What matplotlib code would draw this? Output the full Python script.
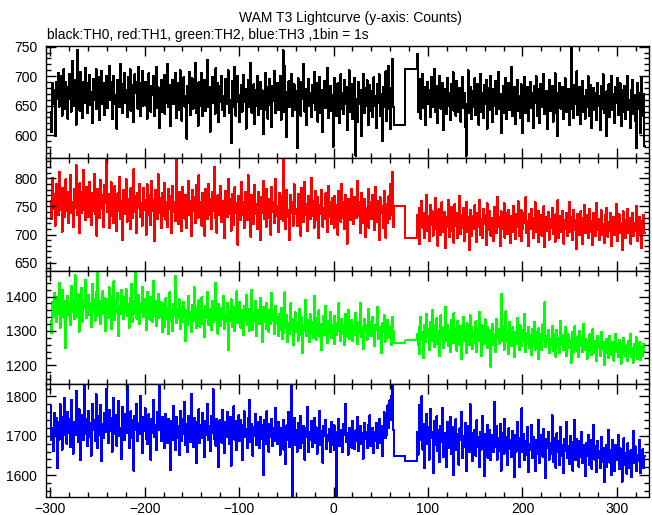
import numpy as np
import matplotlib
matplotlib.use("Agg")
import matplotlib.pyplot as plt
from matplotlib.ticker import MultipleLocator

plt.rcParams['font.family'] = ['Liberation Sans', 'DejaVu Sans']

# ---------------- data (1 s bins) ----------------
t_pre_start, t_pre_end = -300, 64      # regular bins before gap
gap_edges = [64, 76, 88]               # two long bins over data gap
t_post_start, t_post_end = 88, 330     # regular bins after gap

th0_pre = [
640,605,688,652,676,598,690,661,705,648,676,700,633,668,712,645,690,657,628,681,
703,662,640,726,671,650,694,618,745,660,683,641,707,672,629,690,655,714,668,637,
688,702,651,673,620,695,660,681,712,644,667,698,625,676,709,652,689,634,671,700,
646,683,718,659,690,627,675,701,653,668,611,694,680,648,721,662,637,686,705,654,
677,630,699,664,712,641,685,658,622,703,671,690,645,716,667,632,688,709,650,679,
690,650,628,680,705,657,640,684,668,700,632,662,716,646,681,612,671,694,640,660,
702,636,676,655,721,647,685,615,667,694,652,678,706,629,664,688,643,710,659,624,
680,698,648,666,594,683,655,707,634,672,696,645,661,723,637,678,616,690,665,650,
706,632,673,694,641,661,728,647,682,606,669,699,654,676,636,713,663,689,622,657,
684,701,643,666,632,695,653,677,710,638,660,586,692,669,647,716,633,675,700,656,
622,668,685,640,702,656,679,611,664,694,647,671,723,638,660,686,619,677,649,701,
634,663,690,645,676,602,659,706,642,681,628,667,695,651,614,683,658,709,637,672,
689,643,665,700,626,654,744,639,717,660,596,674,691,648,666,704,632,657,686,643,
675,578,696,652,668,633,690,661,721,640,679,617,663,695,649,672,631,685,654,707,
642,666,689,623,654,699,637,676,605,664,692,646,673,714,629,660,683,641,668,580,
697,651,675,632,688,659,620,703,645,671,636,694,653,682,608,666,710,640,659,686,
627,672,697,565,661,622,690,653,676,599,668,704,637,680,649,693,617,662,685,641,
674,631,698,650,667,612,686,655,703,633,670,590,682,647,665,708,624,659,718,644,
610,680,729,648]
th0_gap = [617, 712]
th0_post = [
738,640,671,695,628,659,704,646,682,617,663,690,652,676,631,699,648,668,712,639,
657,684,620,672,701,645,663,688,609,654,679,636,697,650,672,625,686,658,707,641,
669,633,692,640,655,680,623,664,699,646,672,614,565,653,710,638,661,682,627,675,
648,696,634,662,687,618,657,703,640,671,629,685,652,694,611,666,680,643,701,655,
622,678,649,691,636,663,707,645,670,603,659,684,638,673,697,627,656,689,642,668,
715,633,660,681,619,654,694,641,667,629,686,652,603,673,699,637,658,682,624,665,
690,646,671,612,684,655,700,632,661,679,620,687,648,666,704,636,653,675,610,668,
694,641,660,683,623,655,705,638,672,598,664,689,645,657,681,627,670,696,639,652,
678,617,662,750,644,669,629,685,652,708,634,660,681,619,654,692,640,667,628,676,
647,700,633,664,685,612,657,680,642,671,626,689,650,666,609,683,644,703,637,661,
598,674,649,686,631,660,700,643,669,620,681,655,697,634,662,688,615,657,676,640,
684,627,665,700,642,659,612,677,693,636,668,624,578,689,645,672,603,658,697,633,
670,581]

th1_pre = [
760,728,801,745,772,716,790,751,735,812,744,769,705,783,756,731,798,742,775,721,
768,806,739,757,714,781,748,823,735,762,702,791,754,738,776,815,743,726,785,750,
731,794,759,717,774,742,808,736,763,698,781,752,729,797,745,770,713,788,756,834,
740,772,711,765,793,733,757,720,786,749,706,773,741,802,727,760,690,779,752,736,
798,723,764,745,709,782,751,729,816,740,768,703,774,747,790,731,756,716,783,744,
762,700,789,735,770,752,717,796,742,761,688,779,748,727,807,738,765,711,774,750,
733,792,726,758,713,781,745,769,703,787,740,757,724,835,748,719,776,739,763,706,
785,747,728,771,712,755,796,734,760,697,779,742,766,720,788,751,730,805,738,757,
716,774,744,698,781,752,727,790,735,763,709,776,741,820,729,757,703,770,748,734,
787,722,759,740,693,778,746,731,799,737,764,707,772,745,717,784,739,756,682,768,
741,726,793,735,758,711,776,748,725,805,732,760,696,771,743,718,788,736,754,709,
775,744,690,767,738,796,727,752,714,781,746,729,764,700,785,740,757,721,798,733,
750,705,774,741,727,768,835,724,756,710,779,744,731,690,771,739,758,716,789,736,
746,715,772,729,761,698,783,740,722,794,735,754,706,769,744,728,801,733,759,712,
778,741,725,766,693,752,737,780,714,748,727,773,739,704,786,731,757,718,765,745,
712,769,734,752,700,778,743,723,790,730,758,709,771,738,684,763,746,725,781,735,
752,718,767,740,729,796,733,757,702,774,742,720,763,695,748,736,781,712,758,741,
727,770,735,708,785,744,722,759,690,766,739,751,712,778,733,694,755,720,768,728,
790,735,812,714]
th1_gap = [751, 693]
th1_post = [
735,702,748,683,726,760,712,739,694,721,771,706,733,688,752,717,741,698,727,765,
709,736,680,745,718,699,757,725,704,740,676,731,713,762,695,728,749,707,722,685,
754,716,738,693,726,769,701,735,711,747,689,723,758,704,731,672,744,719,697,733,
710,752,725,686,739,714,762,700,728,693,745,719,735,681,756,708,724,742,698,730,
717,688,749,722,703,767,713,731,679,741,709,726,756,694,720,738,701,744,715,685,
733,705,751,720,692,737,714,759,698,727,743,688,710,739,721,766,702,724,680,736,
709,745,716,693,730,757,704,721,686,742,713,735,698,725,750,677,719,731,706,740,
691,728,712,748,701,723,687,736,715,761,694,718,733,705,742,684,726,709,739,697,
722,758,704,731,690,715,744,708,726,674,737,712,699,741,718,683,729,753,702,716,
735,693,711,746,705,724,681,739,714,697,756,708,727,690,720,743,700,718,685,734,
712,748,696,723,707,739,680,716,732,699,725,754,689,711,736,703,721,672,741,709,
726,694,717,745,702,730,684,713,739,697,720,707,751,688,714,732,699,724,676,718,
735,703]

th2_pre = [
1330,1295,1385,1340,1410,1362,1325,1398,1350,1440,1310,1376,1352,1420,1339,1388,1250,1365,1402,1345,
1378,1318,1430,1356,1392,1335,1462,1370,1341,1407,1298,1383,1355,1425,1327,1390,1366,1448,1337,1372,
1405,1346,1380,1312,1436,1361,1394,1330,1412,1355,1476,1343,1387,1320,1375,1415,1350,1396,1301,1368,
1392,1339,1427,1358,1306,1401,1366,1444,1331,1383,1352,1410,1285,1374,1348,1418,1362,1335,1399,1356,
1421,1344,1379,1310,1395,1360,1438,1327,1386,1349,1469,1336,1372,1404,1319,1381,1355,1429,1341,1367,
1393,1302,1414,1351,1377,1333,1400,1362,1326,1445,1345,1388,1314,1371,1408,1339,1384,1356,1296,1380,
1352,1311,1395,1336,1368,1290,1412,1330,1357,1301,1379,1343,1460,1322,1365,1338,1392,1305,1348,1371,
1327,1384,1342,1270,1361,1316,1403,1339,1355,1296,1375,1329,1427,1344,1308,1366,1333,1389,1312,1350,
1398,1320,1357,1281,1372,1337,1414,1318,1346,1364,1302,1386,1325,1355,1440,1331,1360,1292,1378,1340,
1315,1368,1336,1401,1306,1350,1325,1381,1244,1359,1329,1392,1311,1345,1370,1299,1337,1415,1322,1356,
1384,1310,1343,1362,1289,1374,1331,1406,1316,1348,1300,1365,1335,1420,1303,1352,1327,1388,1284,1344,
1361,1320,1396,1333,1268,1370,1325,1351,1307,1382,1338,1298,1363,1319,1410,1330,1356,1291,1373,1342,
1321,1285,1350,1302,1367,1276,1330,1295,1412,1310,1345,1268,1322,1290,1380,1305,1336,1260,1315,1354,
1298,1326,1272,1365,1308,1288,1340,1236,1318,1299,1391,1284,1331,1306,1268,1348,1293,1325,1280,1402,
1311,1275,1337,1296,1360,1283,1320,1245,1305,1344,1289,1372,1301,1266,1330,1292,1355,1279,1316,1296,
1344,1262,1309,1287,1325,1380,1298,1271,1336,1290,1316,1258,1349,1283,1304,1362,1276,1321,1295,1333,
1270,1315,1288,1352,1300,1262,1327,1293,1381,1281,1310,1248,1336,1297,1318,1274,1365,1289,1305,1326,
1284,1342,1296,1255,1319,1302,1370,1278,1311,1290,1235,1324,1298,1346,1268,1309,1285,1333,1279,1315,
1292,1258,1340,1301]
th2_gap = [1266, 1273]
th2_post = [
1290,1258,1310,1232,1341,1275,1296,1220,1318,1268,1349,1283,1305,1244,1325,1271,1362,1289,1252,1316,
1279,1337,1262,1300,1226,1345,1285,1310,1249,1293,1370,1270,1318,1255,1302,1238,1333,1286,1264,1351,
1276,1307,1243,1329,1292,1260,1314,1218,1298,1340,1271,1304,1235,1322,1284,1259,1346,1280,1311,1247,
1295,1265,1328,1239,1307,1272,1355,1288,1227,1316,1281,1263,1334,1296,1250,1312,1274,1302,1196,1286,
1321,1258,1290,1240,1336,1279,1305,1263,1298,1408,1270,1315,1246,1291,1357,1268,1301,1232,1326,1284,
1256,1310,1275,1223,1298,1262,1339,1279,1244,1317,1286,1255,1304,1270,1350,1238,1293,1266,1312,1249,
1288,1230,1307,1265,1327,1246,1279,1297,1218,1308,1261,1290,1244,1319,1273,1383,1252,1285,1267,1302,
1235,1276,1258,1315,1241,1292,1267,1225,1303,1257,1280,1236,1330,1262,1289,1245,1271,1311,1228,1264,
1290,1250,1273,1208,1296,1259,1236,1314,1268,1243,1284,1224,1301,1256,1279,1238,1320,1262,1246,1276,
1219,1265,1241,1290,1253,1230,1305,1260,1236,1272,1213,1284,1249,1262,1228,1297,1244,1268,1201,1257,
1277,1236,1259,1221,1286,1248,1230,1268,1214,1253,1292,1239,1261,1223,1275,1246,1205,1264,1233,1280,
1241,1226,1258,1212,1271,1237,1290,1224,1250,1208,1263,1233,1281,1218,1246,1269,1215,1254,1236,1228,
1262,1240]

th3_pre = [
1775,1690,1720,1662,1758,1700,1745,1618,1735,1690,1780,1712,1665,1748,1703,1797,1725,1680,1760,1708,
1742,1672,1790,1718,1655,1736,1701,1814,1727,1684,1768,1711,1638,1753,1720,1689,1835,1706,1744,1675,
1762,1697,1733,1650,1781,1715,1740,1688,1806,1722,1668,1751,1703,1778,1636,1729,1694,1759,1710,1820,
1724,1681,1766,1712,1745,1660,1738,1797,1704,1752,1675,1730,1788,1699,1719,1641,1774,1727,1689,1756,
1707,1830,1742,1669,1721,1763,1694,1739,1612,1750,1716,1782,1686,1733,1705,1801,1725,1656,1747,1713,
1770,1692,1737,1679,1755,1718,1640,1744,1708,1791,1697,1728,1665,1761,1714,1838,1731,1686,1749,1702,
1733,1669,1756,1701,1682,1744,1722,1614,1738,1690,1775,1709,1663,1748,1695,1725,1651,1764,1717,1688,
1742,1704,1787,1676,1729,1658,1751,1713,1685,1806,1720,1672,1745,1698,1630,1736,1710,1768,1681,1727,
1694,1759,1715,1647,1738,1703,1780,1689,1725,1662,1750,1708,1818,1693,1731,1675,1744,1716,1621,1739,
1709,1683,1766,1722,1657,1734,1697,1761,1712,1679,1748,1624,1726,1702,1775,1690,1738,1664,1719,1752,
1687,1741,1705,1638,1728,1762,1696,1718,1669,1745,1711,1792,1684,1730,1650,1722,1699,1756,1676,1735,
1714,1668,1749,1693,1727,1600,1739,1705,1680,1763,1717,1660,1731,1698,1744,1674,1721,1688,1770,1702,
1680,1736,1697,1652,1719,1688,1741,1665,1706,1628,1727,1690,1760,1672,1711,1838,1546,1698,1745,1677,
1715,1660,1733,1694,1751,1669,1706,1682,1726,1640,1720,1697,1773,1658,1710,1689,1737,1671,1704,1745,
1683,1722,1655,1708,1691,1764,1676,1713,1632,1726,1699,1740,1666,1702,1687,1718,1658,1735,1700,1678,
1727,1664,1710,1546,1690,1743,1675,1716,1693,1658,1730,1701,1782,1684,1707,1652,1721,1689,1711,1670,
1738,1695,1667,1714,1686,1749,1661,1702,1724,1679,1706,1642,1733,1691,1710,1668,1728,1685,1752,1674,
1699,1720,1657,1711,1688,1732,1670,1706,1744,1683,1725,1648,1716,1760,1694,1735,1702,1778,1721,1790,
1740,1802,1838,1715]
th3_gap = [1649, 1635]
th3_post = [
1710,1652,1778,1690,1745,1800,1665,1730,1618,1702,1756,1680,1722,1640,1769,1694,1711,1605,1738,1676,
1698,1750,1661,1715,1633,1726,1684,1771,1646,1707,1690,1621,1735,1668,1712,1749,1655,1697,1600,1723,
1681,1742,1663,1705,1627,1719,1689,1760,1644,1700,1672,1733,1611,1694,1725,1658,1780,1679,1706,1636,
1688,1715,1650,1739,1673,1696,1620,1711,1665,1750,1683,1598,1704,1669,1728,1645,1692,1716,1638,1677,
1702,1659,1786,1671,1724,1640,1695,1662,1731,1612,1685,1708,1654,1744,1677,1697,1626,1719,1666,1690,
1646,1713,1678,1596,1701,1660,1735,1683,1621,1694,1658,1770,1672,1705,1639,1687,1651,1722,1609,1680,
1665,1727,1643,1698,1675,1611,1690,1654,1741,1667,1630,1702,1685,1647,1718,1661,1593,1693,1670,1709,
1640,1682,1655,1752,1634,1695,1668,1619,1706,1659,1686,1625,1723,1650,1677,1605,1691,1662,1736,1644,
1674,1628,1700,1657,1685,1612,1669,1740,1638,1693,1654,1622,1688,1647,1710,1631,1676,1655,1598,1681,
1649,1703,1626,1665,1690,1617,1652,1728,1640,1673,1608,1686,1645,1661,1619,1697,1633,1670,1582,1656,
1678,1620,1647,1715,1632,1664,1601,1689,1642,1610,1676,1638,1655,1702,1616,1668,1629,1584,1650,1694,
1625,1657,1604,1681,1640,1618,1663,1596,1648,1712,1630,1673,1611,1652,1636,1690,1605,1645,1622,1666,
1618,1648]

series = [
    ("black", th0_pre, th0_gap, th0_post),
    ("red", th1_pre, th1_gap, th1_post),
    ("#00ff00", th2_pre, th2_gap, th2_post),
    ("blue", th3_pre, th3_gap, th3_post),
]
ylims = [(562, 752), (636, 837), (1147, 1476), (1546, 1833)]
ymajor = [50, 50, 100, 100]
yminor = [10, 10, 20, 20]

edges = np.concatenate([np.arange(t_pre_start, t_pre_end + 1),
                        np.array(gap_edges[1:-1]),
                        np.arange(t_post_start, t_post_end + 1)])

W, H = 652, 515
fig = plt.figure(figsize=(W / 100, H / 100), dpi=100)
left, right = 45.5 / W, 649 / W
tops = [45.5, 157.5, 270.5, 383.5, 496.5]

for i, (color, pre, gap, post) in enumerate(series):
    y0 = 1 - tops[i + 1] / H
    h = (tops[i + 1] - tops[i]) / H
    ax = fig.add_axes([left, y0, right - left, h])
    vals = np.concatenate([pre, gap, post]).astype(float)
    ax.stairs(vals, edges, baseline=None, color=color, lw=0.75, antialiased=False)
    ax.set_xlim(-305, 334)
    ax.set_ylim(*ylims[i])
    ax.xaxis.set_major_locator(MultipleLocator(100))
    ax.xaxis.set_minor_locator(MultipleLocator(20))
    ax.yaxis.set_major_locator(MultipleLocator(ymajor[i]))
    ax.yaxis.set_minor_locator(MultipleLocator(yminor[i]))
    ax.tick_params(which='both', direction='in', top=True, right=True,
                   labelsize=10, width=1.0, colors='black')
    ax.tick_params(which='major', length=7, pad=6)
    ax.tick_params(which='minor', length=3.5)
    for s in ax.spines.values():
        s.set_linewidth(1.0)
    if i < 3:
        ax.tick_params(labelbottom=False)
    else:
        ax.tick_params(axis='x', pad=4)

fig.text(350 / W, 1 - 18 / H, "WAM T3 Lightcurve (y-axis: Counts)",
         ha='center', va='center', fontsize=10)
fig.text(47 / W, 1 - 35 / H, "black:TH0, red:TH1, green:TH2, blue:TH3 ,1bin = 1s",
         ha='left', va='center', fontsize=10)

fig.savefig("out.png", dpi=100)
